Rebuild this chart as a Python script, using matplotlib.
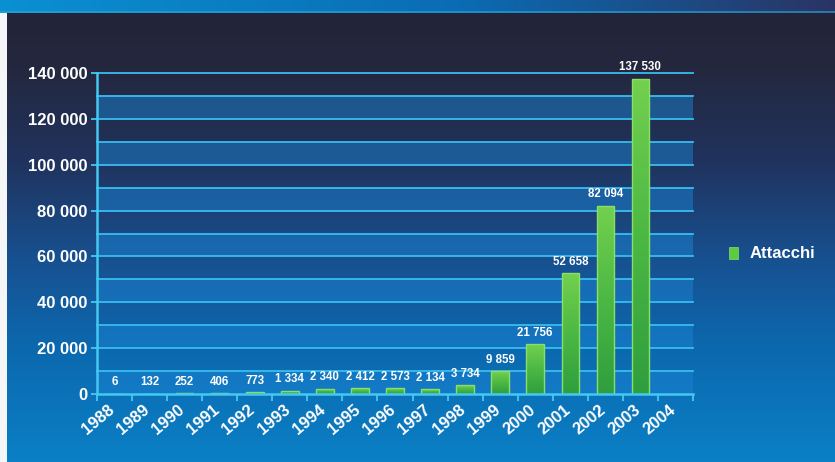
import numpy as np
import matplotlib
matplotlib.use("Agg")
import matplotlib.pyplot as plt
from matplotlib.colors import LinearSegmentedColormap, to_rgb
from matplotlib.patches import Patch, Rectangle
import matplotlib.transforms as mtrans

plt.rcParams['font.family'] = ['Liberation Sans', 'DejaVu Sans']

years = [str(y) for y in range(1988, 2005)]
attacks = [6, 132, 252, 406, 773, 1334, 2340, 2412, 2573, 2134, 3734,
           9859, 21756, 52658, 82094, 137530, None]
yticks = [0, 20000, 40000, 60000, 80000, 100000, 120000, 140000]
series_name = "Attacchi"

W, H = 835, 462
fig = plt.figure(figsize=(W / 100, H / 100), dpi=100)

# ---- background image ----
def grad(stops, n):
    pos = np.array([s[0] for s in stops])
    cols = np.array([to_rgb(s[1]) for s in stops])
    t = np.linspace(0, 1, n)
    return np.stack([np.interp(t, pos, cols[:, k]) for k in range(3)], axis=1)

bg = np.zeros((H, W, 3))
vert = grad([(0.0, '#222337'), (0.15, '#24283f'), (0.35, '#20335e'),
             (0.55, '#184f8e'), (0.75, '#0c68ae'), (1.0, '#0a80c6')], H)
bg[:] = vert[:, None, :]
top = grad([(0.0, '#0a90d2'), (0.55, '#0a6cb4'), (1.0, '#2a3464')], W)
bg[0:11, :, :] = top[None, :, :]
bg[11:13, :, :] = np.array(to_rgb('#2aa6dc'))[None, None, :] * 0.6 + top[None, :, :] * 0.4
bg[13:, 0:7, :] = np.array(to_rgb('#f4f6f8'))

bgax = fig.add_axes([0, 0, 1, 1], zorder=0)
bgax.imshow(bg, aspect='auto', extent=(0, 1, 0, 1), origin='upper', interpolation='bilinear')
bgax.set_axis_off()

# ---- main axes ----
ax = fig.add_axes([97 / W, 1 - 394 / H, (693 - 97) / W, (394 - 73) / H], zorder=1)
ax.patch.set_alpha(0)
n = len(years)

grid_col = '#38bdf0'
for i in range(14):
    if i % 2 == 0:
        ax.axhspan(i * 10000, (i + 1) * 10000, color='#1a82d2', alpha=0.5, lw=0, zorder=0.5)
for yv in range(10000, 140001, 10000):
    ax.axhline(yv, color=grid_col, lw=1.3, zorder=1, clip_on=False)

bar_w = 0.5
green_cmap = LinearSegmentedColormap.from_list('g', ['#2f9e3e', '#4cb844', '#72d04e'])
xs = np.arange(n) + 0.5
for x, v in zip(xs, attacks):
    if v is None:
        continue
    rect = Rectangle((x - bar_w / 2, 0), bar_w, v, facecolor='none',
                     edgecolor='#8ade6a', lw=1.0, zorder=3)
    ax.add_patch(rect)
    im = ax.imshow(np.linspace(0, 1, 64)[:, None], cmap=green_cmap, aspect='auto',
                   extent=(x - bar_w / 2, x + bar_w / 2, 0, max(v, 1)),
                   origin='lower', zorder=2.5)
    im.set_clip_path(rect)
    ax.annotate(f"{v:,}".replace(",", " "), (x, v), xytext=(0, 4),
                textcoords='offset points', ha='center', va='bottom',
                fontsize=8.3, fontweight='bold', color='white', zorder=4,
                annotation_clip=False)
ax.set_xlim(0, n)
ax.set_ylim(0, 140000)

# axes styling
for s in ['top', 'right']:
    ax.spines[s].set_visible(False)
for s in ['left', 'bottom']:
    ax.spines[s].set_color('#44c8f2')
    ax.spines[s].set_linewidth(1.8)
    ax.spines[s].set_zorder(5)

ax.set_xticks(np.arange(n + 1))
ax.set_xticklabels([])
ax.set_xticks(xs, minor=True)
ax.set_xticklabels(years, minor=True, rotation=40, ha='right',
                   fontsize=12, fontweight='bold', color='white')
ax.tick_params(axis='x', which='major', length=5, width=1.3, color='#44c8f2', direction='out')
ax.tick_params(axis='x', which='minor', length=0, pad=6)
shift = mtrans.ScaledTranslation(3 / 100, 0, fig.dpi_scale_trans)
for lab in ax.get_xticklabels(minor=True):
    lab.set_transform(lab.get_transform() + shift)

ax.set_yticks(yticks)
ax.set_yticklabels([f"{t:,}".replace(",", " ") for t in yticks],
                   fontsize=12, fontweight='bold', color='white')
ax.tick_params(axis='y', length=4, width=1.3, color='#44c8f2', pad=3)

# legend
leg = fig.legend(handles=[Patch(facecolor='#5ccc3e', edgecolor='#8ade6a', lw=0.5)],
                 labels=[series_name], loc='center left',
                 bbox_to_anchor=(714 / W, 1 - 254 / H), frameon=False,
                 handlelength=0.55, handleheight=0.75, handletextpad=0.7,
                 prop={'size': 12, 'weight': 'bold'})
for t in leg.get_texts():
    t.set_color('white')

fig.savefig('out.png', dpi=100)
